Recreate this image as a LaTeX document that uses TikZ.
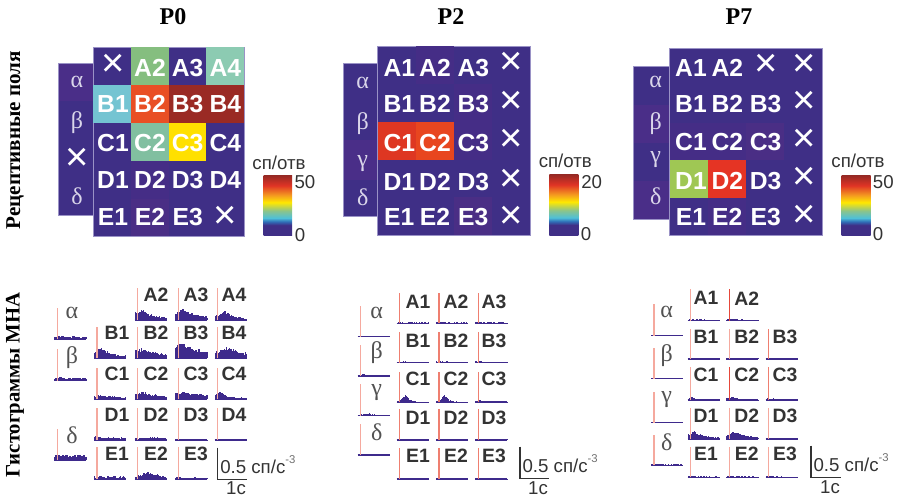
\documentclass[tikz,border=0pt]{standalone}
\usepackage{fontspec}
\setmainfont{Liberation Serif}
\setsansfont{Liberation Sans}
\definecolor{ind}{HTML}{3F2F86}
\definecolor{indb}{HTML}{4A2E88}
\definecolor{edge}{HTML}{9A92C6}
\definecolor{pal}{HTML}{F5A99E}
\definecolor{mid}{HTML}{EF7F70}
\definecolor{rd}{HTML}{E6473A}
\definecolor{hc}{HTML}{3E2A8C}
\definecolor{ink}{HTML}{333333}
\definecolor{gr}{HTML}{DAD6EA}
\definecolor{HBLUE}{HTML}{2F6FB8}
\definecolor{HCYAN}{HTML}{4FC0D8}
\definecolor{HGREEN}{HTML}{8CC48A}
\definecolor{HYELL}{HTML}{FFE800}
\definecolor{HORANGE}{HTML}{F49A20}
\definecolor{HRED}{HTML}{E03425}
\definecolor{HDARK}{HTML}{9A2A24}
\pgfdeclareverticalshading{rbar}{100bp}{
 color(0bp)=(ind); color(25bp)=(ind); color(34bp)=(ind);
 color(37bp)=(HBLUE); color(40bp)=(HCYAN); color(46bp)=(HGREEN);
 color(53bp)=(HYELL); color(59bp)=(HORANGE); color(67bp)=(HRED); color(75bp)=(HDARK); color(100bp)=(HDARK)}
\tikzset{
 x=0.75pt,y=-0.75pt,
 heatlab/.style={font=\sffamily\bfseries\fontsize{18.5}{20}\selectfont,text=white,inner sep=0pt},
 histlab/.style={font=\sffamily\bfseries\fontsize{14.5}{16}\selectfont,text=ink,inner sep=0pt},
 xlab/.style={font=\sffamily\fontsize{30}{31}\selectfont,text=white,inner sep=0pt},
 grk/.style={font=\fontsize{18}{20}\selectfont,text=gr,inner sep=0pt},
 grkh/.style={font=\fontsize{18}{20}\selectfont,text=ink!85,inner sep=0pt},
 ttl/.style={font=\bfseries\fontsize{18}{20}\selectfont,inner sep=0pt},
 vlab/.style={font=\bfseries\fontsize{15.5}{17}\selectfont,rotate=90,inner sep=0pt},
 vlabb/.style={font=\bfseries\fontsize{15.8}{17}\selectfont,rotate=90,inner sep=0pt},
 unit/.style={font=\sffamily\fontsize{14}{16}\selectfont,text=ink,inner sep=0pt},
 barline/.style={draw=ink,line width=0.9pt},
 mapedge/.style={draw=edge,line width=0.4pt},
}
\newcommand\lrow[4]{\foreach \t/\xx in {#4}{\node[#2] (#1\t) at (\xx,#3) {\t};}}
\newcommand\xrow[2]{\foreach \xx/\yy [count=\k] in {#2}{\node[xlab] (#1\k) at (\xx,\yy) {×};}}
\newcommand\hot[7]{\fill[#7] ({#1+(#5)*#3},{#2+(#6)*#4}) rectangle ({#1+(#5+1)*#3},{#2+(#6+1)*#4});}
\newcommand\supm{\raisebox{0.55em}{\fontsize{8.5}{9}\selectfont\color{ink!70}-3}}
\newcommand\hist[8]{%
 \foreach \i in {0,...,31}{%
  \pgfmathsetmacro\hh{#7*(0.3+0.9*rnd)+#4*exp(-abs(\i-3-#6)/#5)*(0.65+0.35*rnd)}%
  \fill[hc] ({#1-3+\i},#2) rectangle ({#1-3+\i+1.25},{#2-\hh});}%
 \draw[hc,line width=1.1pt] ({#1-3},#2) -- ({#1+29},#2);
 \draw[#8,line width=1pt] (#1,#2) -- (#1,#3);
}
\begin{document}
\begin{tikzpicture}
\useasboundingbox (0,0) rectangle (901,499);
\pgfmathsetseed{11}
\node[ttl] (t0) at (173,17) {P0};
\node[ttl] (t2) at (451,17) {P2};
\node[ttl] (t7) at (739,17) {P7};
\node[vlabb] (v1) at (15,140) {Рецептивные поля};
\node[vlab] (v2) at (15,385) {Гистограммы МНА};

%% ---------- P0 map
\fill[indb] (58.5,63) rectangle (93,101);
\fill[ind] (58.5,101) rectangle (93,215);
\draw[mapedge] (93,63) -- (58.5,63) -- (58.5,215) -- (93,215);
\fill[ind] (93,47.5) rectangle (244,236.5);
\draw[mapedge] (93,47.5) rectangle (244,236.5);
\foreach \c/\r/\k in {1/0/85BE7F,3/0/8CCBB2,0/1/74C4D2,1/1/E94F24,2/1/9A2A24,3/1/9A2A24,1/2/81BFA0,2/2/FFE000,1/3/452D86,1/4/4A2E85}{
 \definecolor{tmpc}{HTML}{\k}\hot{93}{47.5}{37.75}{37.8}{\c}{\r}{tmpc}}
\lrow{p0}{heatlab}{67.7}{A2/150,A3/187.7,A4/225.3}
\lrow{p0}{heatlab}{104.3}{B1/113,B2/150,B3/187.7,B4/225.3}
\lrow{p0}{heatlab}{143.3}{C1/113,C2/150,C3/187.7,C4/225.3}
\lrow{p0}{heatlab}{180}{D1/113,D2/150,D3/187.7,D4/225.3}
\lrow{p0}{heatlab}{217.3}{E1/113,E2/150,E3/187.7}
\xrow{p0x}{113/65,225.3/217.3,77/159.3}
\node[grk] (p0a) at (77,81.7) {α};
\node[grk] (p0b) at (77,123) {β};
\node[grk] (p0d) at (77,196.7) {δ};
\shade[shading=rbar] (263.5,176) rectangle (292,236);
\node[unit] (p0u) at (279,163) {сп/отв};
\node[unit] (p0hi) at (305,181.7) {50};
\node[unit] (p0lo) at (300,235) {0};

%% ---------- P2 map
\fill[ind] (343.3,63.3) rectangle (377.7,216);
\fill[indb] (343.3,140) rectangle (377.7,180);
\draw[mapedge] (377.7,63.3) -- (343.3,63.3) -- (343.3,216) -- (377.7,216);
\fill[ind] (377.7,46.3) rectangle (530,235.3);
\draw[mapedge] (377.7,46.3) rectangle (530,235.3);
\foreach \c/\r/\k in {1/0/452D86,2/1/452D86,0/2/DE3722,1/2/E8461F,2/2/452D86,2/4/4A2E85}{
 \definecolor{tmpc}{HTML}{\k}\hot{377.7}{46.3}{38}{37.8}{\c}{\r}{tmpc}}
\lrow{p2}{heatlab}{68.3}{A1/399.3,A2/435,A3/473.3}
\lrow{p2}{heatlab}{104}{B1/399.3,B2/435,B3/473.3}
\lrow{p2}{heatlab}{143.3}{C1/399.3,C2/435,C3/473.3}
\lrow{p2}{heatlab}{181.7}{D1/399.3,D2/435,D3/473.3}
\lrow{p2}{heatlab}{217.3}{E1/399.3,E2/435,E3/473.3}
\xrow{p2x}{510.7/63.3,510.7/102.7,510.7/140,510.7/180,510.7/217.3}
\node[grk] (p2a) at (362.7,83.3) {α};
\node[grk] (p2b) at (362.7,124) {β};
\node[grk] (p2g) at (362.7,163.3) {γ};
\node[grk] (p2d) at (362.7,197.3) {δ};
\shade[shading=rbar] (549.3,175) rectangle (578.3,236);
\node[unit] (p2u) at (565.3,160.7) {сп/отв};
\node[unit] (p2hi) at (591.7,181.7) {20};
\node[unit] (p2lo) at (586,234) {0};

%% ---------- P7 map
\fill[ind] (633.3,66.7) rectangle (669.7,219);
\fill[indb] (633.3,105) rectangle (669.7,143);
\fill[indb] (633.3,181) rectangle (669.7,219);
\draw[mapedge] (669.7,66.7) -- (633.3,66.7) -- (633.3,219) -- (669.7,219);
\fill[ind] (669.7,48) rectangle (822,235.3);
\draw[mapedge] (669.7,48) rectangle (822,235.3);
\foreach \c/\r/\k in {0/2/452D86,1/2/452D86,2/2/4A2E85,0/3/9FC754,1/3/E53424,1/4/452D86}{
 \definecolor{tmpc}{HTML}{\k}\hot{669.7}{48}{38.1}{37.5}{\c}{\r}{tmpc}}
\lrow{p7}{heatlab}{68.3}{A1/691,A2/727.3}
\lrow{p7}{heatlab}{104}{B1/691,B2/727.3,B3/765.7}
\lrow{p7}{heatlab}{141.7}{C1/691,C2/727.3,C3/765.7}
\lrow{p7}{heatlab}{180.7}{D1/691,D2/727.3,D3/765.7}
\lrow{p7}{heatlab}{216.7}{E1/691,E2/727.3,E3/765.7}
\xrow{p7x}{765.7/65.7,804.3/65.7,804.3/102.7,804.3/140.7,804.3/178.3,804.3/216.7}
\node[grk] (p7a) at (655.7,82.3) {α};
\node[grk] (p7b) at (655.7,123.3) {β};
\node[grk] (p7g) at (655.7,160) {γ};
\node[grk] (p7d) at (655.7,196) {δ};
\shade[shading=rbar] (841.7,176) rectangle (870.7,236);
\node[unit] (p7u) at (858,160.7) {сп/отв};
\node[unit] (p7hi) at (883.3,181.7) {50};
\node[unit] (p7lo) at (878,234) {0};

%% ---------- P0 histograms
\hist{137.7}{320}{288.3}{10}{14}{3}{1.5}{pal}
\hist{178.3}{320}{288.3}{11}{14}{4}{1.5}{pal}
\hist{217.7}{320}{288.3}{10}{9}{6}{1}{pal}
\hist{97}{358.3}{327}{10}{12}{4}{1.5}{pal}
\hist{137.7}{358.3}{327}{9}{22}{3}{2}{pal}
\hist{178.3}{358.3}{327}{15}{20}{2}{2.5}{pal}
\hist{217.7}{358.3}{327}{11}{16}{10}{2}{pal}
\hist{97}{399.3}{368}{4}{20}{4}{1}{pal}
\hist{137.7}{399.3}{368}{7}{18}{4}{1.5}{pal}
\hist{178.3}{399.3}{368}{6}{40}{4}{1.5}{pal}
\hist{217.7}{399.3}{368}{8}{8}{1}{1.2}{pal}
\hist{97}{440}{408}{2}{40}{1}{1.5}{pal}
\hist{137.7}{440}{408}{2}{30}{14}{1}{pal}
\hist{178.3}{440}{408}{0.5}{40}{1}{0.4}{pal}
\hist{217.7}{440}{408}{0.5}{40}{1}{0.3}{pal}
\hist{97}{479.3}{447}{1}{60}{1}{2.2}{pal}
\hist{137.7}{479.3}{447}{7}{8}{10}{2.5}{pal}
\hist{178.3}{479.3}{447}{1}{40}{1}{1}{pal}
\hist{57.3}{339.3}{308}{1}{40}{1}{2}{pal}
\hist{57.3}{380.7}{349}{1}{40}{1}{2}{pal}
\hist{57.3}{460}{429}{2}{40}{1}{3.5}{pal}
\lrow{h0}{histlab}{295}{A2/156,A3/196,A4/234}
\lrow{h0}{histlab}{333}{B1/117,B2/156,B3/196,B4/234}
\lrow{h0}{histlab}{374}{C1/117,C2/156,C3/196,C4/234}
\lrow{h0}{histlab}{415}{D1/117,D2/156,D3/196,D4/234}
\lrow{h0}{histlab}{454}{E1/117,E2/156,E3/196}
\node[grkh] (h0a) at (72,313) {α};
\node[grkh] (h0b) at (72,357.3) {β};
\node[grkh] (h0d) at (72,435) {δ};
\coordinate (s0t) at (217.7,447.7); \coordinate (s0c) at (217.7,479.3); \coordinate (s0r) at (246.7,479.3);
\draw[barline] (s0t) -- (s0c) -- (s0r);
\node[unit,anchor=west] (s0y) at (220,464.3) {0.5 сп/с\supm};
\node[unit] (s0x) at (236,488) {1с};

%% ---------- P2 histograms
\foreach \xx in {399.7,439,478.3}{
 \hist{\xx}{323.3}{292.7}{0.5}{40}{1}{0.7}{mid}
 \hist{\xx}{362.7}{332.3}{1}{15}{1}{0.6}{mid}
 \hist{\xx}{440}{409}{0.5}{30}{1}{0.4}{mid}
 \hist{\xx}{479}{448.3}{0.5}{30}{1}{0.4}{mid}
}
\hist{399.7}{402.3}{371.7}{9}{4}{5}{0.4}{mid}
\hist{439}{402.3}{371.7}{8}{4}{5}{0.4}{mid}
\hist{478.3}{402.3}{371.7}{1.5}{20}{3}{0.6}{mid}
\hist{360.7}{336.7}{306}{0.5}{30}{1}{0.6}{pal}
\hist{360.7}{376}{345}{2}{6}{2}{0.4}{pal}
\hist{360.7}{415.7}{384.3}{2.5}{7}{6}{0.5}{pal}
\hist{360.7}{455}{424}{0.5}{30}{1}{0.4}{pal}
\lrow{h2}{histlab}{301.7}{A1/418,A2/456,A3/494}
\lrow{h2}{histlab}{340.7}{B1/418,B2/456,B3/494}
\lrow{h2}{histlab}{379.3}{C1/418,C2/456,C3/494}
\lrow{h2}{histlab}{417.7}{D1/418,D2/456,D3/494}
\lrow{h2}{histlab}{455.7}{E1/418,E2/456,E3/494}
\node[grkh] (h2a) at (376.7,313) {α};
\node[grkh] (h2b) at (376.7,353) {β};
\node[grkh] (h2g) at (376.7,392.7) {γ};
\node[grkh] (h2d) at (376.7,432.7) {δ};
\coordinate (s2t) at (520,446.7); \coordinate (s2c) at (520,478.3); \coordinate (s2r) at (549.3,478.3);
\draw[barline] (s2t) -- (s2c) -- (s2r);
\node[unit,anchor=west] (s2y) at (522.3,463.3) {0.5 сп/с\supm};
\node[unit] (s2x) at (538,488) {1с};

%% ---------- P7 histograms
\hist{690.7}{320.7}{289.3}{1}{20}{1}{0.7}{pal}
\hist{729.3}{320.7}{289.3}{1}{20}{2}{0.7}{rd}
\hist{690.7}{359}{329}{0.5}{30}{1}{0.5}{pal}
\hist{729.3}{359}{329}{0.5}{30}{1}{0.5}{pal}
\hist{768.7}{359}{329}{0.5}{30}{1}{0.8}{mid}
\hist{690.7}{400}{367.3}{4}{3}{1}{0.5}{pal}
\hist{729.3}{400}{367.3}{3}{5}{2}{0.5}{rd}
\hist{768.7}{400}{367.3}{1}{20}{2}{0.7}{mid}
\hist{690.7}{439}{407.7}{8}{12}{3}{0.6}{pal}
\hist{729.3}{439}{407.7}{8}{11}{5}{0.8}{pal}
\hist{768.7}{439}{407.7}{0.3}{30}{1}{0.2}{pal}
\hist{690.7}{477.3}{446.7}{0.5}{30}{1}{0.6}{pal}
\hist{729.3}{477.3}{446.7}{0.5}{30}{1}{0.6}{pal}
\hist{768.7}{477.3}{446.7}{1}{10}{1}{0.5}{pal}
\hist{654}{335.7}{304.3}{0.5}{30}{1}{0.7}{pal}
\hist{654}{378.7}{348.3}{0.5}{30}{1}{0.6}{pal}
\hist{654}{422.7}{391.7}{0.5}{30}{1}{0.5}{pal}
\hist{654}{465.3}{435}{0.8}{30}{1}{0.7}{pal}
\lrow{h7}{histlab}{298.3}{A1/706,A2/746.7}
\lrow{h7}{histlab}{336.7}{B1/706,B2/746.7,B3/785}
\lrow{h7}{histlab}{375}{C1/706,C2/746.7,C3/785}
\lrow{h7}{histlab}{415.7}{D1/706,D2/746.7,D3/785}
\lrow{h7}{histlab}{454}{E1/706,E2/746.7,E3/785}
\node[grkh] (h7a) at (666.7,311.7) {α};
\node[grkh] (h7b) at (666.7,356) {β};
\node[grkh] (h7g) at (666.7,400) {γ};
\node[grkh] (h7d) at (666.7,442.7) {δ};
\coordinate (s7t) at (811,445.7); \coordinate (s7c) at (811,477.3); \coordinate (s7r) at (840.7,477.3);
\draw[barline] (s7t) -- (s7c) -- (s7r);
\node[unit,anchor=west] (s7y) at (813.3,462.7) {0.5 сп/с\supm};
\node[unit] (s7x) at (830,486.7) {1с};
\end{tikzpicture}
\end{document}
